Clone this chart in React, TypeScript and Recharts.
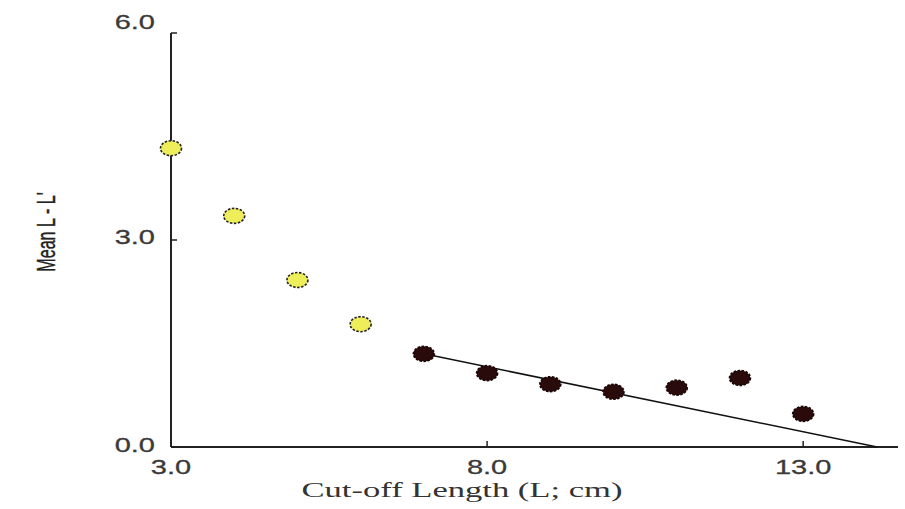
import React from "react";
import { ScatterChart, Scatter, XAxis, YAxis } from "recharts";

const earlyLengths = [3, 4, 5, 6];
const earlyMeans = [4.33, 3.35, 2.42, 1.78];
const lateLengths = [7, 8, 9, 10, 11, 12, 13];
const lateMeans = [1.35, 1.07, 0.91, 0.8, 0.86, 1.0, 0.48];
const fitLengths = [7, 14.17];
const fitMeans = [1.35, 0];
const xTicks = [3, 8, 13];
const yTicks = [0, 3, 6];

const toPoints = (xs: number[], ys: number[]) => xs.map((x, i) => ({ x, y: ys[i] }));

const earlyData = toPoints(earlyLengths, earlyMeans);
const lateData = toPoints(lateLengths, lateMeans);
const fitData = toPoints(fitLengths, fitMeans);

const SANS = "'Liberation Sans', Arial, sans-serif";
const SERIF = "'Liberation Serif', 'Times New Roman', serif";
const INK = "#222";

function XTick({ x, y, payload }: any) {
  return (
    <g>
      <line x1={x} x2={x} y1={y} y2={y - 6} stroke={INK} strokeWidth={1.5} />
      <text
        transform={`translate(${x},${y + 27}) scale(1.45,1)`}
        textAnchor="middle"
        fontSize={20}
        fontFamily={SANS}
        fill="#3a3a3a"
        stroke="#3a3a3a"
        strokeWidth={0.3}
      >
        {Number(payload.value).toFixed(1)}
      </text>
    </g>
  );
}

function YTick({ x, y, payload }: any) {
  const v = Number(payload.value);
  // top label sits a bit higher than its tick in the original
  const dy = v === 6 ? -4 : v === 0 ? 5 : 4;
  return (
    <g>
      <line x1={x + 16} x2={x + 22} y1={y} y2={y} stroke={INK} strokeWidth={1.5} />
      <text
        transform={`translate(${x},${y + dy}) scale(1.45,1)`}
        textAnchor="end"
        fontSize={20}
        fontFamily={SANS}
        fill="#3a3a3a"
        stroke="#3a3a3a"
        strokeWidth={0.3}
      >
        {v.toFixed(1)}
      </text>
    </g>
  );
}

const yellowDot = ({ cx, cy }: any) => (
  <ellipse
    cx={cx}
    cy={cy}
    rx={10.5}
    ry={7.5}
    fill="#eeee5a"
    stroke="#222"
    strokeWidth={1.6}
    strokeDasharray="2.5 1.5"
  />
);

const darkDot = ({ cx, cy }: any) => (
  <ellipse
    cx={cx}
    cy={cy}
    rx={10.5}
    ry={7.5}
    fill="#2a0b0b"
    stroke="#1a0505"
    strokeWidth={1.6}
    strokeDasharray="2.5 1.5"
  />
);

export default function App() {
  return (
    <div style={{ position: "absolute", left: 0, top: 0, background: "#fff" }}>
      <ScatterChart width={905} height={509} margin={{ top: 33, right: 7, bottom: 0, left: 0 }}>
        <XAxis
          type="number"
          dataKey="x"
          domain={[3, 14.5]}
          ticks={xTicks}
          height={62}
          tickSize={0}
          tickMargin={0}
          tickLine={false}
          tick={<XTick />}
          axisLine={{ stroke: INK, strokeWidth: 2 }}
          label={{
            content: ({ viewBox }: any) => (
              <text
                x={viewBox.x + 291}
                y={viewBox.y + 50}
                textAnchor="middle"
                fontSize={21}
                fontFamily={SERIF}
                fill="#333"
                textLength={321}
                lengthAdjust="spacingAndGlyphs"
              >
                Cut-off Length (L; cm)
              </text>
            ),
          }}
        />
        <YAxis
          type="number"
          dataKey="y"
          domain={[0, 6]}
          ticks={yTicks}
          width={171}
          tickSize={0}
          tickMargin={16}
          tickLine={false}
          tick={<YTick />}
          axisLine={{ stroke: INK, strokeWidth: 2 }}
          label={{
            content: () => (
              <text
                transform="translate(46,232) rotate(-90) scale(0.62,1)"
                textAnchor="middle"
                dominantBaseline="central"
                fontSize={26}
                fontFamily={SANS}
                fill="#222"
                stroke="#222"
                strokeWidth={0.4}
              >
                Mean L - L'
              </text>
            ),
          }}
        />
        <Scatter
          data={fitData}
          line={{ stroke: "#111", strokeWidth: 1.5 }}
          shape={() => <g />}
          isAnimationActive={false}
        />
        <Scatter data={earlyData} shape={yellowDot} isAnimationActive={false} />
        <Scatter data={lateData} shape={darkDot} isAnimationActive={false} />
      </ScatterChart>
    </div>
  );
}
